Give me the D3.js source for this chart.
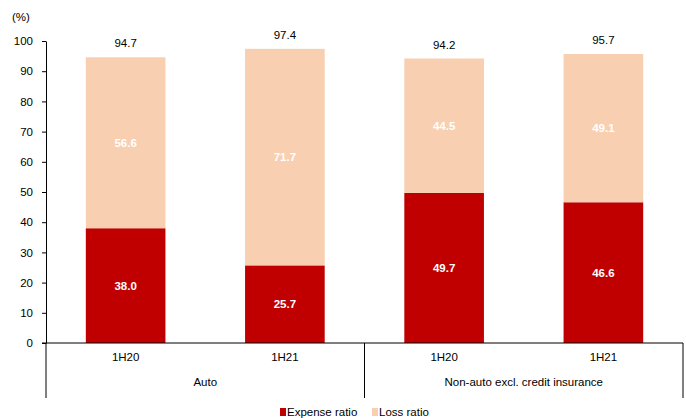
<!DOCTYPE html>
<html><head><meta charset="utf-8">
<script src="https://cdn.jsdelivr.net/npm/d3@7"></script>
<style>body{margin:0;background:#fff}text{font-family:"Liberation Sans",Arial,sans-serif}</style>
</head><body><svg id="c" width="686" height="418"></svg>
<script>
const categories = ["1H20","1H21","1H20","1H21"];
const groups = ["Auto","Non-auto excl. credit insurance"];
const expenseRatio = [38.0,25.7,49.7,46.6];
const lossRatio = [56.6,71.7,44.5,49.1];
const totals = [94.7,97.4,94.2,95.7];
const yTicks = [0,10,20,30,40,50,60,70,80,90,100];
const seriesNames = ["Expense ratio","Loss ratio"];
const colors = ["#C00000","#F8CFB0"];

const fs = 11.5;
const svg = d3.select("#c");
const mLeft = 46, mRight = 683, mTop = 41, mBottom = 343;
const x = d3.scaleBand().domain(d3.range(categories.length)).range([mLeft,mRight]).paddingInner(0.5).paddingOuter(0.25);
const y = d3.scaleLinear().domain([0,100]).range([mBottom,mTop]);

// bars
categories.forEach((c,i)=>{
  const e = expenseRatio[i], l = lossRatio[i];
  const cx = x(i)+x.bandwidth()/2;
  svg.append("rect").attr("x",x(i)).attr("width",x.bandwidth()).attr("y",y(e)).attr("height",y(0)-y(e)).attr("fill",colors[0]);
  svg.append("rect").attr("x",x(i)).attr("width",x.bandwidth()).attr("y",y(e+l)).attr("height",y(e)-y(e+l)).attr("fill",colors[1]);
  svg.append("text").attr("x",cx).attr("y",y(e/2)+4).attr("text-anchor","middle").attr("fill","#fff").attr("font-weight","bold").attr("font-size",fs).text(e.toFixed(1));
  svg.append("text").attr("x",cx).attr("y",y(e+l/2)+4).attr("text-anchor","middle").attr("fill","#fff").attr("font-weight","bold").attr("font-size",fs).text(l.toFixed(1));
  svg.append("text").attr("x",cx).attr("y",y(totals[i])-10).attr("text-anchor","middle").attr("fill","#000").attr("font-size",fs).text(totals[i].toFixed(1));
});

// y axis
const ya = svg.append("g").attr("transform",`translate(${mLeft},0)`).call(d3.axisLeft(y).tickValues(yTicks).tickSize(4).tickPadding(9).tickSizeOuter(0));
ya.select(".domain").attr("stroke","#000");
ya.selectAll("text").attr("font-size",fs).attr("fill","#000").attr("font-family","Liberation Sans, Arial, sans-serif");
ya.selectAll("line").attr("stroke","#000");
svg.append("text").attr("x",12).attr("y",21).attr("font-size",fs).text("(%)");

// x axis line
svg.append("line").attr("x1",mLeft-4).attr("x2",mRight).attr("y1",mBottom).attr("y2",mBottom).attr("stroke","#000");
// group separators
const step = x.step();
[mLeft, mLeft+2*step, mRight].forEach(px=>{
  svg.append("line").attr("x1",px).attr("x2",px).attr("y1",mBottom).attr("y2",398).attr("stroke","#000");
});
categories.forEach((c,i)=>{
  svg.append("text").attr("x",x(i)+x.bandwidth()/2).attr("y",361).attr("text-anchor","middle").attr("font-size",fs).text(c);
});
groups.forEach((g,i)=>{
  svg.append("text").attr("x",mLeft+step*(2*i+1)).attr("y",386).attr("text-anchor","middle").attr("font-size",fs).text(g);
});

// legend
const lx = [280, 372];
seriesNames.forEach((s,i)=>{
  svg.append("rect").attr("x",lx[i]).attr("y",408).attr("width",6).attr("height",8).attr("fill",colors[i]);
  svg.append("text").attr("x",lx[i]+7).attr("y",416).attr("font-size",fs).text(s);
});
</script></body></html>
